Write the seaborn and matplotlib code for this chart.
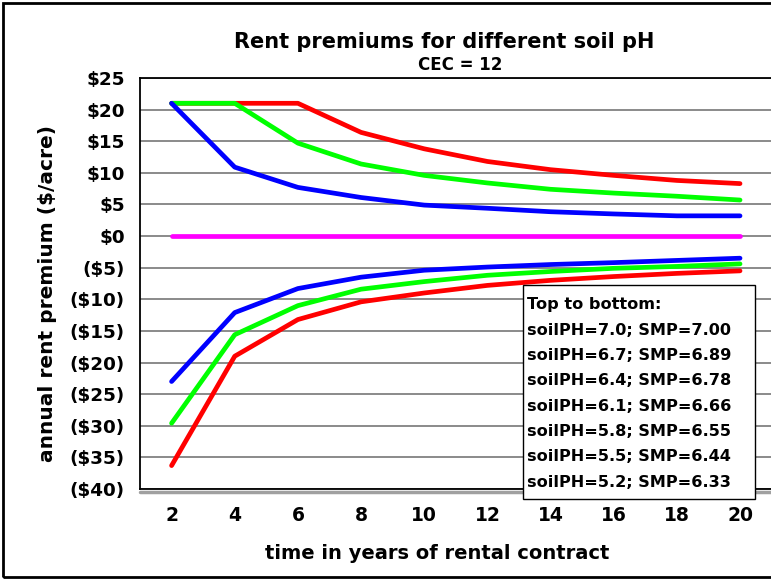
import matplotlib
matplotlib.use("Agg")
import matplotlib.pyplot as plt
import seaborn as sns
import pandas as pd
from matplotlib.patches import Rectangle
from matplotlib.lines import Line2D

years = [2, 4, 6, 8, 10, 12, 14, 16, 18, 20]
ph70 = [21.0, 21.0, 21.0, 16.4, 13.8, 11.8, 10.5, 9.6, 8.8, 8.3]
ph67 = [21.0, 21.0, 14.7, 11.4, 9.6, 8.4, 7.4, 6.8, 6.3, 5.7]
ph64 = [21.0, 10.9, 7.7, 6.1, 4.9, 4.4, 3.85, 3.5, 3.2, 3.2]
ph61 = [0, 0, 0, 0, 0, 0, 0, 0, 0, 0]
ph58 = [-23.0, -12.1, -8.3, -6.5, -5.4, -4.9, -4.5, -4.2, -3.85, -3.5]
ph55 = [-29.6, -15.6, -11.0, -8.4, -7.2, -6.2, -5.6, -5.1, -4.8, -4.4]
ph52 = [-36.3, -19.0, -13.2, -10.4, -9.0, -7.8, -7.0, -6.4, -5.9, -5.5]
series_names = ["soilPH=7.0; SMP=7.00", "soilPH=6.7; SMP=6.89", "soilPH=6.4; SMP=6.78",
                "soilPH=6.1; SMP=6.66", "soilPH=5.8; SMP=6.55", "soilPH=5.5; SMP=6.44",
                "soilPH=5.2; SMP=6.33"]
series_vals = [ph70, ph67, ph64, ph61, ph58, ph55, ph52]
colors = ["#FF0000", "#00FF00", "#0000FF", "#FF00FF", "#0000FF", "#00FF00", "#FF0000"]
yticks = list(range(-40, 30, 5))
ytick_labels = [f"${v}" if v >= 0 else f"(${-v})" for v in yticks]

rows = []
for name, vals in zip(series_names, series_vals):
    for x, v in zip(years, vals):
        rows.append({"year": x, "premium": v, "series": name})
df = pd.DataFrame(rows)

sns.set_style("white")
plt.rcParams["font.family"] = ["DejaVu Sans"]
plt.rcParams["font.weight"] = "bold"
plt.rcParams["text.color"] = "black"
plt.rcParams["axes.labelcolor"] = "black"
plt.rcParams["xtick.color"] = "black"
plt.rcParams["ytick.color"] = "black"

W, H = 771, 580
fig = plt.figure(figsize=(W / 100, H / 100), dpi=100)
left, right, top, bottom = 140, 771.6, 78, 489
axw, axh = right - left, bottom - top
ax = fig.add_axes([left / W, 1 - bottom / H, axw / W, axh / H])

sns.lineplot(data=df, x="year", y="premium", hue="series", palette=colors,
             hue_order=series_names, ax=ax, linewidth=3.4, legend=False, zorder=3)
for ln in ax.lines:
    ln.set_solid_capstyle("round")
    ln.set_solid_joinstyle("round")

ax.set_xlim(1, 21)
ax.set_ylim(-40, 25)
ax.set_yticks(yticks)
ax.set_yticklabels(ytick_labels, fontsize=13.2, fontweight="bold")
ax.set_xticks(years)
ax.set_xticklabels([str(y) for y in years], fontsize=13.5, fontweight="bold")
ax.tick_params(axis="y", length=0, pad=11, colors="black")
ax.tick_params(axis="x", direction="in", length=9, width=1, pad=12, colors="black")
ax.yaxis.grid(True, color="#777777", linewidth=1.2)
ax.xaxis.grid(False)
ax.set_axisbelow(True)
for s in ["left", "top", "bottom"]:
    ax.spines[s].set_color("black")
    ax.spines[s].set_linewidth(1.3)
ax.spines["right"].set_visible(False)
ax.set_xlabel("time in years of rental contract", fontsize=14, fontweight="bold", color="black")
ax.xaxis.set_label_coords((437 - left) / axw, (bottom - 544) / axh)
ax.set_ylabel("annual rent premium ($/acre)", fontsize=14.5, fontweight="bold", color="black")
ax.yaxis.set_label_coords((57 - left) / axw, (bottom - 294) / axh)

# shadow under bottom axis
fig.add_artist(Line2D([left / W, 1.0], [1 - 491.5 / H] * 2, color="#A0A0A0", linewidth=2.5,
                      transform=fig.transFigure, zorder=1))

fig.text(444 / W, 1 - 42 / H, "Rent premiums for different soil pH", ha="center", va="center",
         fontsize=15, fontweight="bold")
fig.text(460 / W, 1 - 65 / H, "CEC = 12", ha="center", va="center", fontsize=12, fontweight="bold")

# legend text box
bx0, by0, bx1, by1 = 523, 285, 755, 499
fig.add_artist(Rectangle((bx0 / W, 1 - by1 / H), (bx1 - bx0) / W, (by1 - by0) / H,
                         transform=fig.transFigure, facecolor="white", edgecolor="black",
                         linewidth=1.0, zorder=5))
lines = ["Top to bottom:"] + series_names
for i, t in enumerate(lines):
    fig.text(527 / W, 1 - (305 + i * 25.3) / H, t, ha="left", va="center",
             fontsize=11.6, fontweight="bold", zorder=6)

# figure border
fig.add_artist(Rectangle((3 / W, 3 / H), (W + 10) / W, (H - 6) / H, transform=fig.transFigure,
                         facecolor="none", edgecolor="black", linewidth=2, zorder=10))

fig.savefig("out.png", dpi=100)
